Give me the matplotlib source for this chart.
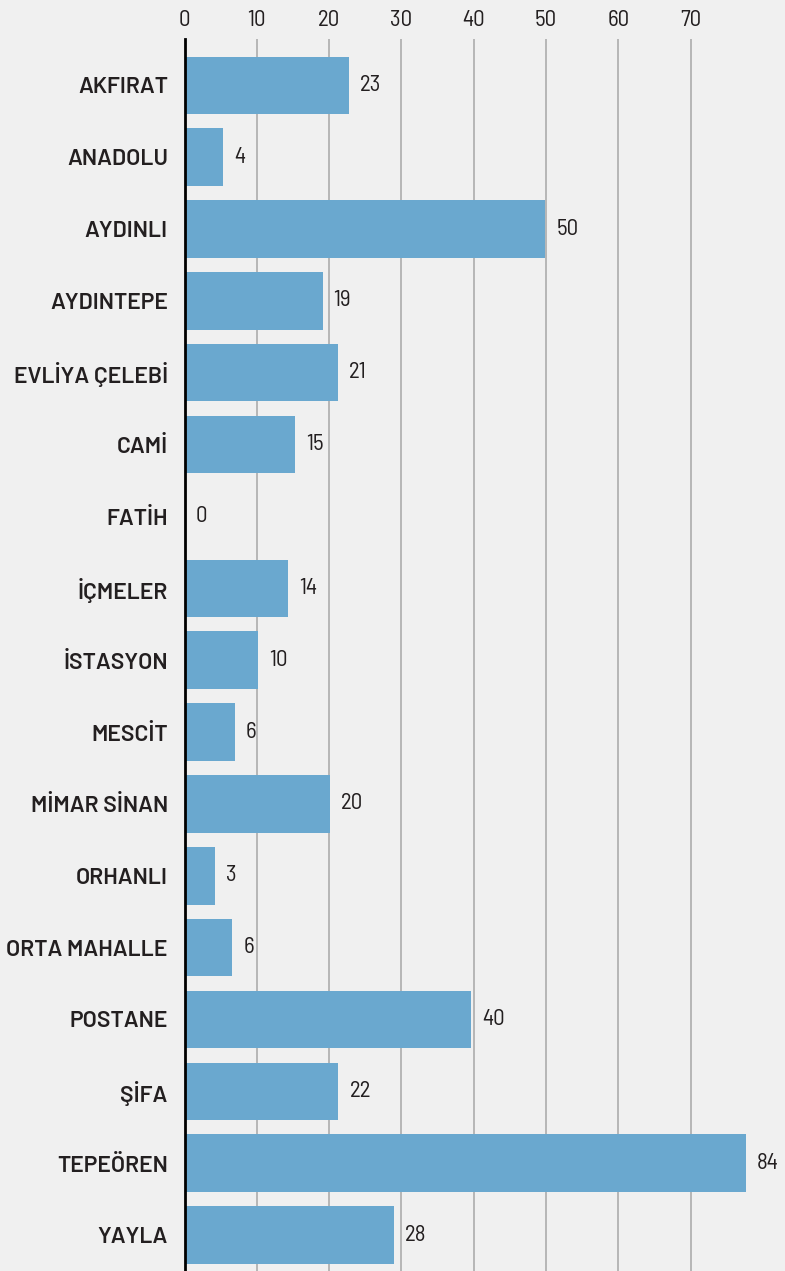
import matplotlib
matplotlib.use('Agg')
from matplotlib import pyplot as plt

names = ['AKFIRAT', 'ANADOLU', 'AYDINLI', 'AYDINTEPE', 'EVLİYA ÇELEBİ', 'CAMİ', 'FATİH',
         'İÇMELER', 'İSTASYON', 'MESCİT', 'MİMAR SİNAN', 'ORHANLI', 'ORTA MAHALLE',
         'POSTANE', 'ŞİFA', 'TEPEÖREN', 'YAYLA']
# bar lengths as drawn in the picture
values = [22.8, 5.3, 49.9, 19.1, 21.2, 15.3, 0, 14.3, 10.2, 7.0, 20.1, 4.2, 6.6, 39.7, 21.3, 77.7, 29.0]
# numbers printed next to the bars
labels = ['23', '4', '50', '19', '21', '15', '0', '14', '10', '6', '20', '3', '6', '40', '22', '84', '28']
ticks = [0, 10, 20, 30, 40, 50, 60, 70]

name_font = ['Barlow', 'DejaVu Sans']
num_font = ['Barlow Semi Condensed', 'DejaVu Sans']
ink = '#231f20'
bg = '#f0f0f0'

fig = plt.figure(figsize=(7.85, 12.71), dpi=100, facecolor=bg)
ax = fig.add_axes([184.5/785, 0, 1 - 184.5/785, (1271 - 39.3)/1271])
ax.set_facecolor(bg)

y = list(range(len(names)))
ax.barh(y, values, height=0.8, color='#6aa8cf', zorder=2)
ax.set_ylim(16.5, -0.64)
ax.set_xlim(0, 83.07)

for i in y:
    ax.annotate(labels[i], (values[i], i), xytext=(11, 0), textcoords='offset pixels',
                ha='left', va='center', fontsize=16.5, color=ink, family=num_font)

ax.set_yticks(y)
ax.set_yticklabels(names, fontsize=16.5, fontweight=600, color=ink, family=name_font)
ax.tick_params(axis='y', length=0, pad=12)

ax.xaxis.tick_top()
ax.set_xticks(ticks)
ax.set_xticklabels([str(t) for t in ticks], fontsize=16.5, color=ink, family=num_font)
ax.tick_params(axis='x', length=0, pad=6)

ax.grid(axis='x', color='#acacac', linewidth=1.2, zorder=0)
ax.set_axisbelow(True)
for s in ['top', 'right', 'bottom']:
    ax.spines[s].set_visible(False)
ax.spines['left'].set_color('black')
ax.spines['left'].set_linewidth(2)
ax.spines['left'].set_zorder(3)

fig.savefig('out.png', dpi=100, facecolor=bg)
